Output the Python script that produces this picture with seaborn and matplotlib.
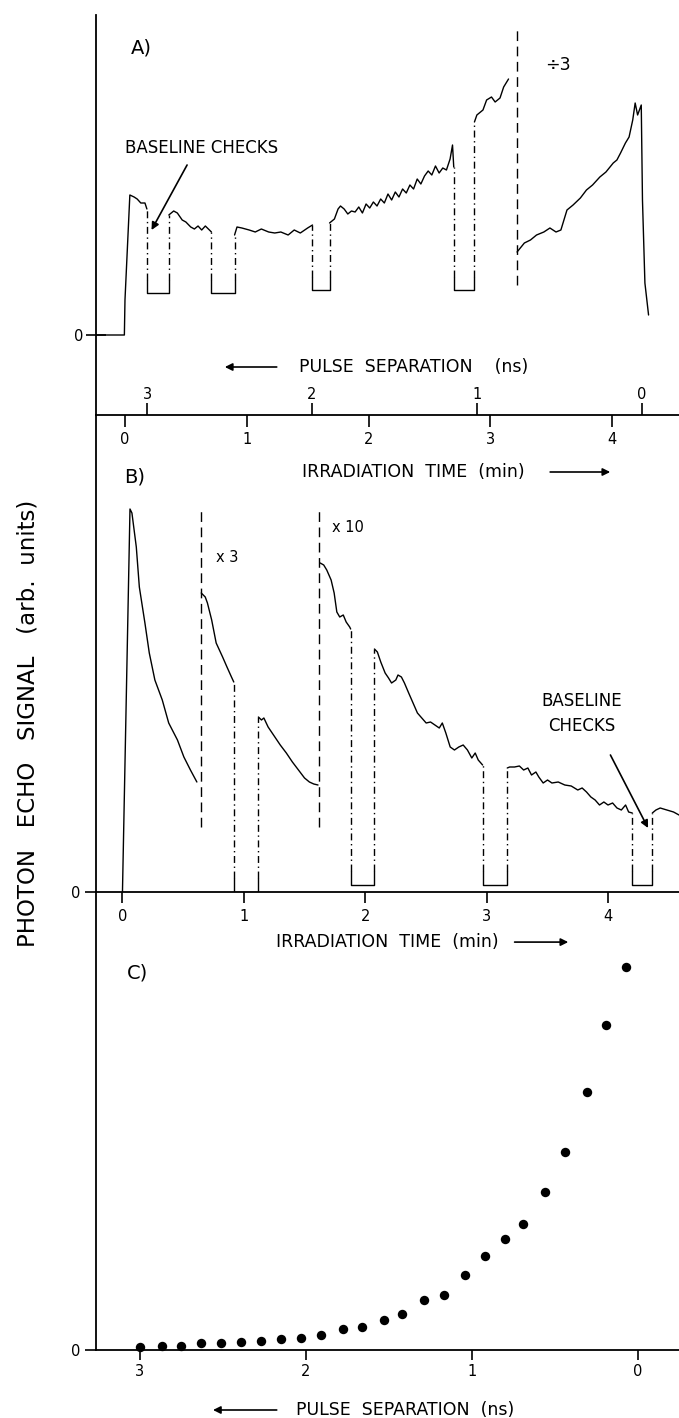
import numpy as np
import matplotlib
matplotlib.use("Agg")
import matplotlib.pyplot as plt
import seaborn as sns

# ---------------- data ----------------
# Panel A: irradiation time (min) / signal (arb. units), trace segments
a_seg1_t = [-0.238, -0.005, 0.0, 0.04, 0.075, 0.10, 0.13, 0.164, 0.18]
a_seg1_v = [0.0, 0.0, 3.5, 14.0, 13.8, 13.6, 13.2, 13.2, 12.6]
a_seg2_t = [0.36, 0.40, 0.43, 0.47, 0.50, 0.54, 0.57, 0.60, 0.63, 0.66, 0.71]
a_seg2_v = [12.0, 12.4, 12.2, 11.5, 11.3, 10.8, 10.6, 10.9, 10.5, 10.9, 10.3]
a_seg3_t = [0.90, 0.92, 0.96, 1.02, 1.07, 1.12, 1.18, 1.23, 1.28, 1.34, 1.39, 1.44, 1.50, 1.54]
a_seg3_v = [10.0, 10.8, 10.7, 10.5, 10.3, 10.6, 10.3, 10.2, 10.3, 10.0, 10.5, 10.2, 10.7, 11.0]
a_seg4_t = [1.68, 1.72, 1.75, 1.77, 1.80, 1.83, 1.86, 1.89, 1.92, 1.95, 1.98, 2.01, 2.04,
            2.07, 2.10, 2.13, 2.16, 2.19, 2.22, 2.25, 2.28, 2.31, 2.34, 2.37, 2.40, 2.43,
            2.46, 2.49, 2.52, 2.55, 2.58, 2.61, 2.64, 2.67, 2.69, 2.70]
a_seg4_v = [11.2, 11.6, 12.6, 12.9, 12.6, 12.1, 12.4, 12.3, 12.8, 12.2, 13.1, 12.7, 13.3,
            12.9, 13.6, 13.2, 14.1, 13.5, 14.3, 13.8, 14.6, 14.2, 15.0, 14.6, 15.6, 15.1,
            15.9, 16.4, 16.0, 16.9, 16.2, 16.7, 16.5, 17.6, 19.0, 16.8]
a_seg5_t = [2.87, 2.89, 2.94, 2.97, 3.01, 3.04, 3.08, 3.11, 3.15]
a_seg5_v = [21.3, 22.0, 22.5, 23.5, 23.8, 23.3, 23.7, 24.8, 25.6]
a_seg6_t = [3.22, 3.28, 3.33, 3.38, 3.44, 3.49, 3.54, 3.58, 3.63, 3.68, 3.74, 3.79, 3.84,
            3.90, 3.95, 4.01, 4.04, 4.07, 4.11, 4.14, 4.17, 4.19, 4.21, 4.24, 4.25, 4.27, 4.30]
a_seg6_v = [8.3, 9.2, 9.5, 10.0, 10.3, 10.7, 10.3, 10.5, 12.5, 13.0, 13.7, 14.5, 15.0,
            15.8, 16.3, 17.2, 17.5, 18.2, 19.2, 19.8, 21.5, 23.2, 22.0, 23.0, 13.5, 5.2, 2.0]
a_check_start = [0.18, 0.71, 1.54, 2.70]
a_check_end = [0.36, 0.90, 1.68, 2.87]
a_check_level = [4.2, 4.2, 4.5, 4.5]
a_check_pairs = [(0, 1), (1, 2), (2, 3), (3, 4)]
a_scale_t = 3.22
a_scale_range = [5.0, 30.7]

# Panel B
b_seg1_t = [0.0, 0.062, 0.078, 0.114, 0.139, 0.185, 0.221, 0.267, 0.328, 0.381, 0.453, 0.506, 0.560, 0.613]
b_seg1_v = [0.0, 38.3, 37.9, 34.5, 30.5, 26.9, 23.9, 21.2, 19.2, 16.9, 15.2, 13.5, 12.2, 11.0]
b_seg2_t = [0.649, 0.682, 0.70, 0.735, 0.772, 0.825, 0.861, 0.898, 0.917]
b_seg2_v = [29.9, 29.5, 28.9, 27.2, 24.9, 23.5, 22.5, 21.5, 21.0]
b_seg3_t = [1.12, 1.145, 1.165, 1.2, 1.25, 1.3, 1.35, 1.40, 1.45, 1.50, 1.54, 1.576, 1.611]
b_seg3_v = [17.5, 17.2, 17.4, 16.5, 15.6, 14.7, 13.9, 13.0, 12.2, 11.4, 11.0, 10.8, 10.7]
b_seg4_t = [1.629, 1.658, 1.683, 1.719, 1.744, 1.766, 1.79, 1.819, 1.843, 1.872, 1.88]
b_seg4_v = [32.9, 32.7, 32.2, 31.2, 29.9, 28.0, 27.5, 27.7, 27.0, 26.5, 26.3]
b_seg5_t = [2.076, 2.1, 2.128, 2.164, 2.192, 2.217, 2.252, 2.27, 2.298, 2.323, 2.358, 2.394,
            2.43, 2.466, 2.502, 2.538, 2.574, 2.61, 2.635, 2.664, 2.7, 2.735, 2.771, 2.807,
            2.842, 2.878, 2.906, 2.931, 2.967]
b_seg5_v = [24.3, 24.0, 23.0, 21.9, 21.4, 20.9, 21.2, 21.7, 21.5, 20.9, 19.9, 18.9,
            17.9, 17.4, 16.9, 17.0, 16.7, 16.4, 16.9, 15.9, 14.5, 14.2, 14.5, 14.7,
            14.2, 13.4, 13.9, 13.2, 12.7]
b_seg6_t = [3.17, 3.19, 3.23, 3.27, 3.305, 3.34, 3.37, 3.406, 3.43, 3.466, 3.502, 3.538,
            3.59, 3.644, 3.697, 3.751, 3.787, 3.823, 3.859, 3.894, 3.93, 3.966, 4.0,
            4.038, 4.074, 4.11, 4.145, 4.17, 4.2]
b_seg6_v = [12.4, 12.5, 12.5, 12.6, 12.2, 12.4, 11.7, 12.0, 11.5, 10.9, 11.2, 10.9,
            11.0, 10.7, 10.6, 10.2, 10.4, 10.0, 9.5, 9.2, 8.7, 9.0, 8.7,
            8.9, 8.4, 8.2, 8.7, 8.0, 7.9]
b_seg7_t = [4.365, 4.395, 4.43, 4.485, 4.54, 4.585]
b_seg7_v = [7.9, 8.2, 8.4, 8.2, 8.0, 7.7]
b_check_start = [0.917, 1.88, 2.967, 4.2]
b_check_end = [1.12, 2.076, 3.17, 4.365]
b_check_level = [0.0, 0.7, 0.7, 0.7]
b_check_pairs = [(1, 2), (3, 4), (4, 5), (5, 6)]
b_scale_t = [0.649, 1.623]
b_scale_range = [6.5, 38.2]

# Panel C: pulse separation (ns) / echo signal
c_ns = [3.00, 2.87, 2.75, 2.63, 2.51, 2.39, 2.27, 2.15, 2.03, 1.91, 1.78, 1.66, 1.53,
        1.42, 1.29, 1.17, 1.04, 0.92, 0.80, 0.69, 0.56, 0.44, 0.31, 0.19, 0.07]
c_val = [0.27, 0.40, 0.43, 0.67, 0.67, 0.80, 0.87, 1.07, 1.23, 1.53, 2.07, 2.33, 3.03,
         3.60, 4.97, 5.53, 7.47, 9.37, 11.07, 12.57, 15.77, 19.80, 25.80, 32.50, 38.33]

time_ticks = [0, 1, 2, 3, 4]
ns_ticks = [3, 2, 1, 0]
# pulse separation scale on panel A: 3 ns at t=0.181 min, 0 ns at t=4.246 min
NS3_T, NS0_T = 0.181, 4.246

# ---------------- style ----------------
sns.set_theme(style="white")
plt.rcParams["font.family"] = ["DejaVu Sans"]
plt.rcParams["axes.linewidth"] = 1.3
plt.rcParams["axes.edgecolor"] = "black"
plt.rcParams["axes.labelcolor"] = "black"
plt.rcParams["text.color"] = "black"
plt.rcParams["xtick.color"] = "black"
plt.rcParams["ytick.color"] = "black"

W, H = 679, 1418
fig = plt.figure(figsize=(W / 100, H / 100), dpi=100)
fig.patch.set_facecolor("white")


def axes_px(top, bottom, left=96, right=679):
    ax = fig.add_axes([left / W, 1 - bottom / H, (right - left) / W, (bottom - top) / H])
    ax.set_facecolor("none")
    for s in ("top", "right"):
        ax.spines[s].set_visible(False)
    ax.grid(False)
    return ax


axA = axes_px(15, 415)
axB = axes_px(415, 892)
axC = axes_px(892, 1350)

LW = 1.0
DASHDOT = (0, (5, 2.6, 1, 2.6))
DASHED = (0, (7, 4))
LABEL_FS = 12.5
TICK_FS = 10.5


def trace(ax, t, v):
    sns.lineplot(x=t, y=v, ax=ax, color="black", lw=LW, sort=False, estimator=None)


def checks(ax, segs, starts, ends, levels, pairs, side):
    for s, e, lvl, (i, j) in zip(starts, ends, levels, pairs):
        vs = segs[i][1][-1]
        ve = segs[j][1][0]
        ax.vlines([s], lvl + side, vs, colors="black", lw=LW, linestyles=[DASHDOT])
        ax.vlines([e], lvl + side, ve, colors="black", lw=LW, linestyles=[DASHDOT])
        ax.plot([s, s, e, e], [lvl + side, lvl, lvl, lvl + side], color="black", lw=LW)


def arrow(ax, tip, tail, coords="data"):
    ax.annotate("", xy=tip, xytext=tail, xycoords=coords, textcoords=coords,
                arrowprops=dict(arrowstyle="-|>", color="black", lw=1.2, mutation_scale=11,
                                shrinkA=0, shrinkB=0))


# ---------------- panel A ----------------
segsA = [(a_seg1_t, a_seg1_v), (a_seg2_t, a_seg2_v), (a_seg3_t, a_seg3_v),
         (a_seg4_t, a_seg4_v), (a_seg5_t, a_seg5_v), (a_seg6_t, a_seg6_v)]
for t, v in segsA:
    trace(axA, t, v)
checks(axA, segsA, a_check_start, a_check_end, a_check_level, a_check_pairs, 1.3)
axA.vlines([a_scale_t], a_scale_range[0], a_scale_range[1], colors="black", lw=LW, linestyles=[DASHED])
axA.text(3.556, 27.0, "÷3", fontsize=12.5, ha="center", va="center")
axA.text(0.63, 18.7, "BASELINE CHECKS", fontsize=12, ha="center", va="center")
arrow(axA, (0.218, 10.5), (0.51, 17.0))
axA.set_xlim(-0.238, 4.55)
axA.set_ylim(-8, 32)
axA.set_xticks(time_ticks)
axA.set_xticklabels([str(v) for v in time_ticks])
axA.set_yticks([0])
axA.set_yticklabels(["0"])
axA.tick_params(axis="x", direction="out", length=8.5, width=1.2, pad=4, labelsize=TICK_FS, bottom=True)
axA.tick_params(axis="y", direction="inout", length=14, width=1.2, pad=2, labelsize=TICK_FS, left=True)
axA.set_xlabel("IRRADIATION  TIME  (min)", fontsize=LABEL_FS)
axA.xaxis.set_label_coords(0.544, -0.1425)
axA.xaxis.label.set_verticalalignment("center")
axA.set_ylabel("")
axA.text(0.077, 0.9175, "A)", transform=axA.transAxes, fontsize=14, ha="center", va="center")
arrow(axA, (0.882, -0.1425), (0.779, -0.1425), coords="axes fraction")


def t2ns(t):
    return 3 - (np.asarray(t, dtype=float) - NS3_T) * 3 / (NS0_T - NS3_T)


def ns2t(n):
    return NS3_T + (3 - np.asarray(n, dtype=float)) * (NS0_T - NS3_T) / 3


sec = axA.secondary_xaxis(0.0, functions=(t2ns, ns2t))
sec.set_alignment("top")
sec.spines["top"].set_visible(False)
sec.set_xticks(ns_ticks)
sec.set_xticklabels([str(v) for v in ns_ticks])
sec.tick_params(axis="x", direction="out", length=8.5, width=1.2, pad=1, labelsize=TICK_FS)
axA.text(0.544, 0.12, "PULSE  SEPARATION    (ns)", transform=axA.transAxes,
         fontsize=LABEL_FS, ha="center", va="center")
arrow(axA, (0.221, 0.12), (0.310, 0.12), coords="axes fraction")

# ---------------- panel B ----------------
segsB = [(b_seg1_t, b_seg1_v), (b_seg2_t, b_seg2_v), (b_seg3_t, b_seg3_v),
         (b_seg4_t, b_seg4_v), (b_seg5_t, b_seg5_v), (b_seg6_t, b_seg6_v),
         (b_seg7_t, b_seg7_v)]
for t, v in segsB:
    trace(axB, t, v)
checks(axB, segsB, b_check_start, b_check_end, b_check_level, b_check_pairs, 1.4)
axB.vlines(b_scale_t, b_scale_range[0], b_scale_range[1], colors="black", lw=LW, linestyles=[DASHED])
axB.text(0.861, 33.5, "x 3", fontsize=10.5, ha="center", va="center")
axB.text(1.857, 36.5, "x 10", fontsize=10.5, ha="center", va="center")
axB.text(3.785, 17.9, "BASELINE\nCHECKS", fontsize=12, ha="center", va="center", linespacing=1.5)
arrow(axB, (4.33, 6.4), (4.02, 13.7))
axB.set_xlim(-0.218, 4.585)
axB.set_ylim(0, 47.7)
axB.set_xticks(time_ticks)
axB.set_xticklabels([str(v) for v in time_ticks])
axB.set_yticks([0])
axB.set_yticklabels(["0"])
axB.tick_params(axis="x", direction="out", length=8, width=1.2, pad=4, labelsize=TICK_FS, bottom=True)
axB.tick_params(axis="y", direction="out", length=8, width=1.2, pad=3, labelsize=TICK_FS, left=True)
axB.set_xlabel("IRRADIATION  TIME  (min)", fontsize=LABEL_FS)
axB.xaxis.set_label_coords(0.500, -0.105)
axB.xaxis.label.set_verticalalignment("center")
axB.set_ylabel("")
axB.text(0.067, 0.870, "B)", transform=axB.transAxes, fontsize=14, ha="center", va="center")
arrow(axB, (0.810, -0.105), (0.718, -0.105), coords="axes fraction")

# ---------------- panel C ----------------
sns.scatterplot(x=c_ns, y=c_val, ax=axC, color="black", s=46, linewidth=0, legend=False,
                clip_on=False)
axC.set_xlim(3.265, -0.247)
axC.set_ylim(0, 45.8)
axC.set_xticks(ns_ticks)
axC.set_xticklabels([str(v) for v in ns_ticks])
axC.set_yticks([0])
axC.set_yticklabels(["0"])
axC.tick_params(axis="x", direction="out", length=7, width=1.2, pad=3, labelsize=TICK_FS, bottom=True)
axC.tick_params(axis="y", direction="out", length=8, width=1.2, pad=3, labelsize=TICK_FS, left=True)
axC.set_xlabel("PULSE  SEPARATION  (ns)", fontsize=LABEL_FS)
axC.xaxis.set_label_coords(0.53, -0.131)
axC.xaxis.label.set_verticalalignment("center")
axC.set_ylabel("")
axC.text(0.072, 0.823, "C)", transform=axC.transAxes, fontsize=14, ha="center", va="center")
arrow(axC, (0.2007, -0.131), (0.31, -0.131), coords="axes fraction")

fig.text(28 / W, 1 - 723 / H, "PHOTON   ECHO   SIGNAL   (arb.  units)", rotation=90,
         fontsize=16.5, ha="center", va="center")

fig.savefig("out.png", dpi=100, facecolor="white")
